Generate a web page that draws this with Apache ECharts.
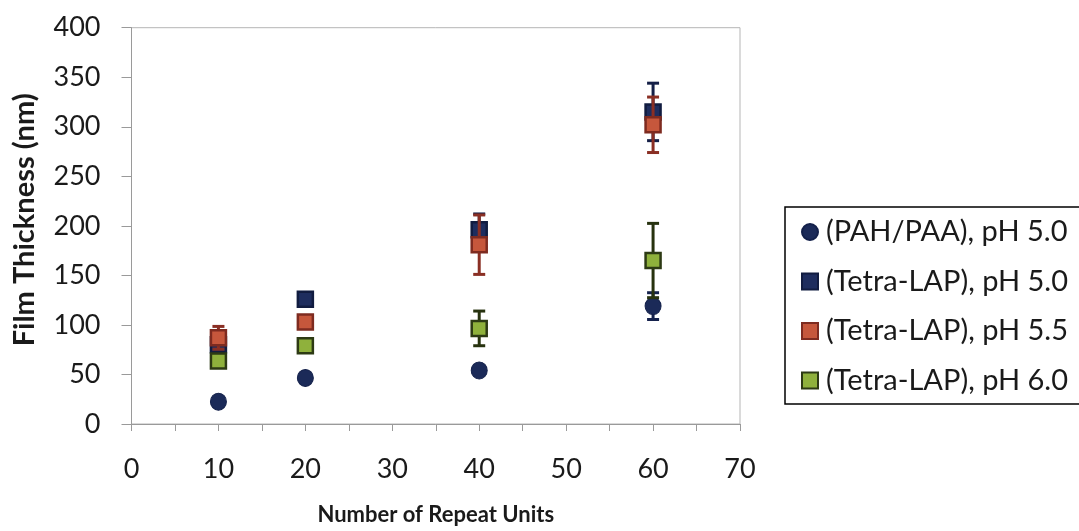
<!DOCTYPE html>
<html>
<head>
<meta charset="utf-8">
<script src="https://cdn.jsdelivr.net/npm/echarts@6/dist/echarts.min.js"></script>
<style>
html,body{margin:0;padding:0;background:#fff;}
#chart{width:1079px;height:531px;}
</style>
</head>
<body>
<div id="chart"></div>
<script>
// ---- data ----
const repeatUnits = [10, 20, 40, 60];
const seriesNames = ['(PAH/PAA), pH 5.0', '(Tetra-LAP), pH 5.0', '(Tetra-LAP), pH 5.5', '(Tetra-LAP), pH 6.0'];
const pahValues = [22.5, 46.5, 54, 119];
const pahErrors = [2, 2, 2, 13.5];
const tetra50Values = [80, 126, 196, 315];
const tetra50Errors = [4, 4, 16, 29];
const tetra55Values = [87, 103, 181, 302];
const tetra55Errors = [11.5, 5, 30, 28];
const tetra60Values = [63.5, 79, 96.5, 165];
const tetra60Errors = [2, 2, 17.5, 37.5];
const xTicks = [0, 10, 20, 30, 40, 50, 60, 70];
const yTicks = [0, 50, 100, 150, 200, 250, 300, 350, 400];

const FONT = 'Lato, "Open Sans", sans-serif';

const styles = [
  {symbol: 'circle', size: [16, 17], fill: '#1b2a58', border: '#13204a', err: '#15224d'},
  {symbol: 'rect', size: 15, fill: '#1e2d5e', border: '#111c40', err: '#141f47'},
  {symbol: 'rect', size: 15, fill: '#c6573c', border: '#7e2b20', err: '#8a2f24'},
  {symbol: 'rect', size: 15, fill: '#8fb13c', border: '#2d3a14', err: '#27320f'}
];
const valueSets = [pahValues, tetra50Values, tetra55Values, tetra60Values];
const errorSets = [pahErrors, tetra50Errors, tetra55Errors, tetra60Errors];

function errSeries(idx) {
  const color = styles[idx].err;
  return {
    type: 'custom',
    name: 'err-' + idx,
    z: 2 + idx * 2,
    silent: true,
    data: repeatUnits.map((x, i) => [x, valueSets[idx][i] - errorSets[idx][i], valueSets[idx][i] + errorSets[idx][i]]),
    renderItem: function (params, api) {
      const lo = api.coord([api.value(0), api.value(1)]);
      const hi = api.coord([api.value(0), api.value(2)]);
      const hw = 6;
      const st = {stroke: color, lineWidth: 3};
      return {
        type: 'group',
        children: [
          {type: 'line', shape: {x1: lo[0], y1: lo[1], x2: hi[0], y2: hi[1]}, style: st},
          {type: 'line', shape: {x1: lo[0] - hw, y1: lo[1], x2: lo[0] + hw, y2: lo[1]}, style: st},
          {type: 'line', shape: {x1: hi[0] - hw, y1: hi[1], x2: hi[0] + hw, y2: hi[1]}, style: st}
        ]
      };
    },
    tooltip: {show: false}
  };
}

function scatterSeries(idx) {
  const s = styles[idx];
  return {
    type: 'scatter',
    name: seriesNames[idx],
    z: 3 + idx * 2,
    symbol: s.symbol,
    symbolSize: s.size,
    itemStyle: {color: s.fill, borderColor: s.border, borderWidth: idx === 0 ? 1 : 2.5, opacity: 1},
    data: repeatUnits.map((x, i) => [x, valueSets[idx][i]])
  };
}

const series = [];
for (let i = 0; i < 4; i++) {
  series.push(errSeries(i));
  series.push(scatterSeries(i));
}

const chart = echarts.init(document.getElementById('chart'), null, {renderer: 'canvas'});
chart.setOption({
  animation: false,
  backgroundColor: '#ffffff',
  textStyle: {fontFamily: FONT},
  grid: {left: 131.5, right: 339, top: 27.7, bottom: 101.7, show: true, borderColor: '#b5b5b5', borderWidth: 1, containLabel: false},
  graphic: [{
    type: 'polyline',
    shape: {points: [[1100, 207], [785, 207], [785, 404], [1100, 404]]},
    style: {fill: 'none', stroke: '#000', lineWidth: 1.5},
    silent: true
  }],
  legend: {
    orient: 'vertical',
    left: 785,
    top: 205.5,
    padding: [12, 0, 12, 16],
    itemGap: 20.5,
    itemWidth: 16,
    itemHeight: 16,
    borderWidth: 0,
    textStyle: {fontFamily: FONT, fontSize: 29, color: '#1a1a1a', lineHeight: 29, padding: [0, 0, 0, 3]},
    data: seriesNames.map((n, i) => ({name: n, icon: styles[i].symbol === 'circle' ? 'circle' : 'rect'}))
  },
  xAxis: {
    type: 'value',
    min: xTicks[0],
    max: xTicks[xTicks.length - 1],
    interval: 10,
    name: 'Number of Repeat Units',
    nameLocation: 'middle',
    nameGap: 80,
    nameTextStyle: {fontFamily: FONT, fontSize: 22, fontWeight: 'bold', color: '#1a1a1a'},
    axisLine: {show: true, lineStyle: {color: '#9a9a9a', width: 1}},
    axisTick: {show: true, length: 7, lineStyle: {color: '#9a9a9a'}},
    minorTick: {show: true, splitNumber: 2, length: 7, lineStyle: {color: '#9a9a9a'}},
    splitLine: {show: false},
    axisLabel: {fontFamily: FONT, fontSize: 27, color: '#1a1a1a', margin: 32}
  },
  yAxis: {
    type: 'value',
    min: yTicks[0],
    max: yTicks[yTicks.length - 1],
    interval: 50,
    name: 'Film Thickness (nm)',
    nameLocation: 'middle',
    nameGap: 92,
    nameRotate: 90,
    nameTextStyle: {fontFamily: FONT, fontSize: 29, fontWeight: 'bold', color: '#1a1a1a', padding: [0, 0, 0, 12]},
    axisLine: {show: true, lineStyle: {color: '#9a9a9a', width: 1}},
    axisTick: {show: true, length: 10, lineStyle: {color: '#9a9a9a'}},
    splitLine: {show: false},
    axisLabel: {fontFamily: FONT, fontSize: 27, color: '#1a1a1a', margin: 31}
  },
  series: series
});
</script>
</body>
</html>
